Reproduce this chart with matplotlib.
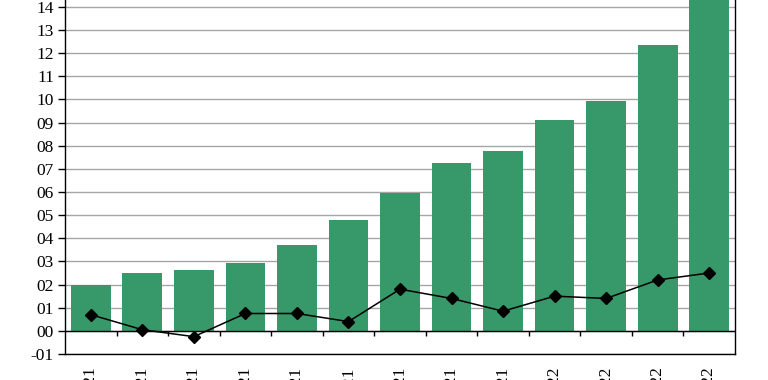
import numpy as np
import matplotlib
matplotlib.use('Agg')
import matplotlib.pyplot as plt

# Data
months = ['Apr-21', 'May-21', 'Jun-21', 'Jul-21', 'Aug-21', 'Sep-21', 'Oct-21',
          'Nov-21', 'Dec-21', 'Jan-22', 'Feb-22', 'Mar-22', 'Apr-22']
bar_values = [2.0, 2.5, 2.65, 2.95, 3.7, 4.8, 5.95, 7.25, 7.75, 9.1, 9.95, 12.35, 14.6]
line_values = [0.7, 0.05, -0.25, 0.75, 0.75, 0.4, 1.8, 1.4, 0.85, 1.5, 1.4, 2.2, 2.5]
y_ticks = list(range(-1, 16))

plt.rcParams['font.family'] = ['Liberation Serif', 'DejaVu Serif']

fig = plt.figure(figsize=(7.68, 3.8), dpi=100)
ax = fig.add_axes([65 / 768, 26 / 380, 670 / 768, 370.3 / 380])

x = np.arange(len(months))
ax.bar(x, bar_values, width=0.77, color='#37996a', zorder=2)
ax.plot(x, line_values, color='black', lw=1.1, marker='D', markersize=6.5, zorder=4)

ax.set_xlim(-0.5, len(months) - 0.5)
ax.set_ylim(-1, 15)

# gridlines
ax.set_yticks(y_ticks)
ax.set_yticklabels(['%03d' % v if v < 0 else '%02d' % v for v in y_ticks], fontsize=12.5)
ax.yaxis.grid(True, color='#a6a6a6', lw=1, zorder=0)
ax.set_axisbelow(True)
ax.tick_params(axis='y', direction='out', length=5, width=1, pad=3)

# zero line with category separator ticks
ax.axhline(0, color='black', lw=1, zorder=3)
bounds = np.arange(len(months) - 1) + 0.5
ax.vlines(bounds, -0.22, 0, color='black', lw=1, zorder=3)

ax.set_xticks(x)
ax.set_xticklabels(months, rotation=90, fontsize=12.5, va='top')
ax.tick_params(axis='x', length=0, pad=9)

for side in ['left', 'right', 'bottom', 'top']:
    ax.spines[side].set_color('black')
    ax.spines[side].set_linewidth(1)

fig.savefig('out.png', dpi=100)
